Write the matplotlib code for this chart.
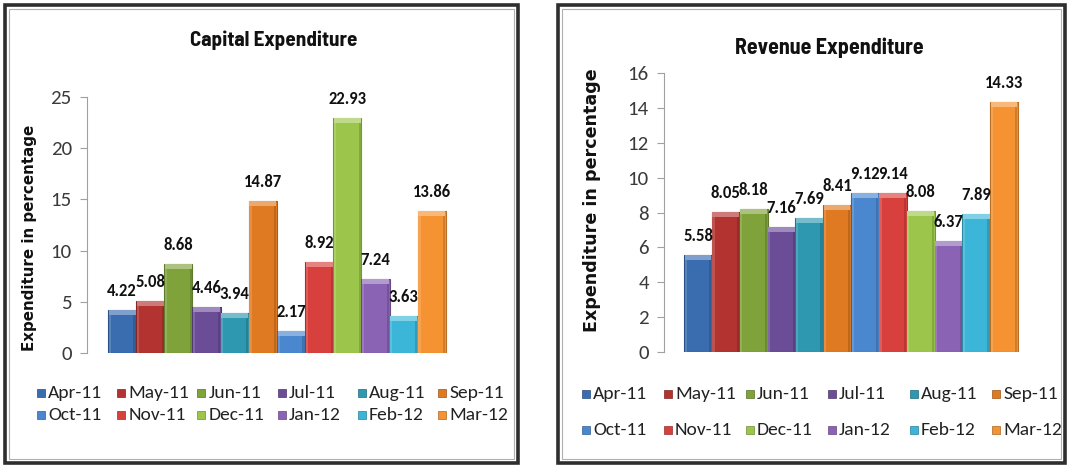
import numpy as np
import matplotlib
matplotlib.use('Agg')
import matplotlib.pyplot as plt
from matplotlib.patches import Rectangle

months = ['Apr-11', 'May-11', 'Jun-11', 'Jul-11', 'Aug-11', 'Sep-11',
          'Oct-11', 'Nov-11', 'Dec-11', 'Jan-12', 'Feb-12', 'Mar-12']
capital = [4.22, 5.08, 8.68, 4.46, 3.94, 14.87, 2.17, 8.92, 22.93, 7.24, 3.63, 13.86]
revenue = [5.58, 8.05, 8.18, 7.16, 7.69, 8.41, 9.12, 9.14, 8.08, 6.37, 7.89, 14.33]
colors = ['#3a6cb0', '#b23330', '#7fa23b', '#6a4d96', '#2e98b0', '#e07a22',
          '#4a87cf', '#d8403d', '#9cc64b', '#8a63b5', '#3cb6d8', '#f59231']

narrow = ['Carlito', 'Archivo Narrow', 'DejaVu Sans']
condensed = ['Barlow Semi Condensed', 'Archivo Narrow', 'DejaVu Sans']
plt.rcParams['font.family'] = narrow

fig = plt.figure(figsize=(10.68, 4.65), dpi=100)
W, H = 1068.0, 465.0


def lighten(c, f):
    r, g, b = matplotlib.colors.to_rgb(c)
    return (r + (1 - r) * f, g + (1 - g) * f, b + (1 - b) * f)


def darken(c, f):
    r, g, b = matplotlib.colors.to_rgb(c)
    return (r * f, g * f, b * f)


def panel(box, axbox, xlim, ymax, yticks, values, title, title_xy, title_fs,
          ylab_xy, ylab_fs, leg_x0, leg_dx, leg_y):
    # frame around the chart
    bx0, by0, bx1, by1 = box
    fig.add_artist(Rectangle((bx0 / W, 1 - by1 / H), (bx1 - bx0) / W, (by1 - by0) / H,
                             transform=fig.transFigure, fill=False, lw=2.6, ec='#2e2e2e'))
    fig.add_artist(Rectangle(((bx0 + 4) / W, 1 - (by1 - 4) / H), (bx1 - bx0 - 8) / W, (by1 - by0 - 8) / H,
                             transform=fig.transFigure, fill=False, lw=0.8, ec='#b0b0b0'))

    ax0, ay_top, ax1, ay_bot = axbox
    ax = fig.add_axes([ax0 / W, 1 - ay_bot / H, (ax1 - ax0) / W, (ay_bot - ay_top) / H])
    ax.set_xlim(*xlim)
    ax.set_ylim(0, ymax)
    x = np.arange(len(values))
    px_per_unit = ymax / (ay_bot - ay_top)
    bevel = 5 * px_per_unit
    for i, v in enumerate(values):
        ax.bar(x[i], v, width=1.0, color=colors[i], edgecolor=darken(colors[i], 0.75), lw=0.8, zorder=2)
        ax.bar(x[i], bevel, bottom=v - bevel, width=0.96, color=lighten(colors[i], 0.35), lw=0, zorder=3)
        ax.bar(x[i] - 0.44, v - bevel, width=0.08, color=lighten(colors[i], 0.15), lw=0, zorder=3)
        ax.bar(x[i] + 0.44, v - bevel, width=0.08, color=darken(colors[i], 0.85), lw=0, zorder=3)
        ax.annotate(f'{v:.2f}', (x[i], v), xytext=(0, 8), textcoords='offset points',
                    ha='center', va='bottom', fontsize=12, fontweight='bold', color='#111111',
                    zorder=5)
    for s in ['top', 'right', 'bottom']:
        ax.spines[s].set_visible(False)
    ax.spines['left'].set_color('#a0a0a0')
    ax.set_xticks([])
    ax.set_yticks(yticks)
    ax.tick_params(axis='y', colors='#a0a0a0', labelcolor='#3a3a3a', labelsize=15, length=5, pad=6)
    ax.patch.set_alpha(0)

    fig.text(title_xy[0] / W, 1 - title_xy[1] / H, title, ha='center', va='center',
             fontsize=title_fs, fontweight='bold', color='#111111', family=condensed)
    fig.text(ylab_xy[0] / W, 1 - ylab_xy[1] / H, 'Expenditure in percentage', rotation=90,
             ha='center', va='center', fontsize=ylab_fs, fontweight='bold', color='#111111',
             family='DejaVu Sans')

    for i, m in enumerate(months):
        col, row = i % 6, i // 6
        lx = leg_x0 + col * leg_dx
        ly = leg_y[row]
        fig.add_artist(Rectangle((lx / W, 1 - (ly + 4) / H), 8 / W, 8 / H, transform=fig.transFigure,
                                 fc=colors[i], ec=darken(colors[i], 0.7), lw=0.5))
        fig.text((lx + 11) / W, 1 - ly / H, m, ha='left', va='center', fontsize=14,
                 color='#222222')
    return ax


panel((5, 5, 518, 463), (87, 97, 466, 353), (-1.245, 12.21), 25, [0, 5, 10, 15, 20, 25],
      capital, 'Capital Expenditure', (274, 40), 15.2, (30, 238), 10.9, 37, 80.2, (393, 415))
panel((558, 5, 1065, 463), (664, 73, 1035, 352), (-1.22, 12.11), 16, list(range(0, 17, 2)),
      revenue, 'Revenue Expenditure', (829, 48), 15.8, (592, 200), 12.6, 582, 82, (394, 430))

fig.savefig('out.png', dpi=100)
